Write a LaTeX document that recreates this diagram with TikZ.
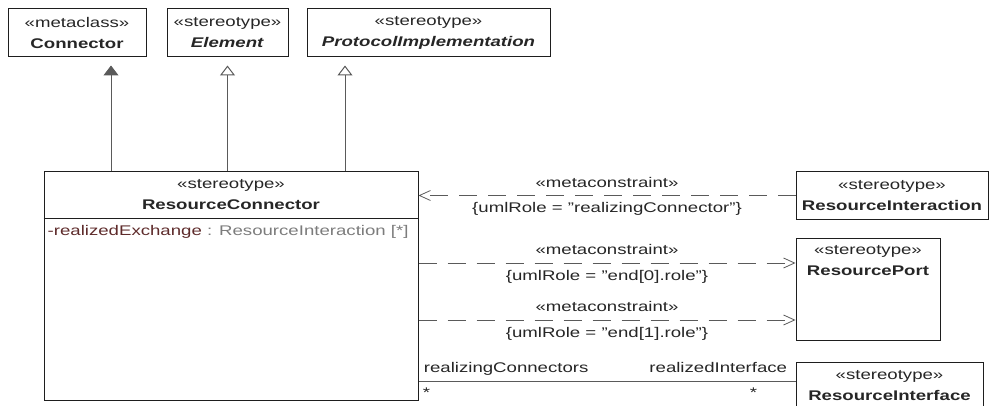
\documentclass[tikz,border=0pt]{standalone}
\usepackage{fontspec}
\setmainfont{Liberation Sans}[FakeStretch=1.33]
\usepackage{xcolor}
\usetikzlibrary{arrows.meta, positioning}
\definecolor{uml-border}{HTML}{1E1E1E}
\definecolor{uml-text}{HTML}{262626}
\definecolor{uml-line}{HTML}{5A5A5A}
\definecolor{attr-name}{HTML}{5E2B2B}
\definecolor{attr-type}{HTML}{7C7C7C}

\begin{document}
\begin{tikzpicture}[x=1pt, y=-1pt,
        every node/.style={font=\fontsize{14}{21}\selectfont, text=uml-text, inner sep=0pt},
        umlclass/.style={draw=uml-border, line width=1pt},
        stereo/.style={align=center},
        lbl/.style={text height=10pt, text depth=3pt},
        generalize/.style={draw=uml-line, line width=1pt, shorten >=8pt,
            -{Triangle[open, length=10pt, width=15pt]}},
        extension/.style={draw=uml-line, line width=1pt, shorten >=8pt,
            -{Triangle[length=10pt, width=15pt]}},
        metadep/.style={draw=uml-line, line width=0.8pt, dash pattern=on 18pt off 11pt,
            -{Straight Barb[length=11pt, width=10pt]}},
        assoc/.style={draw=uml-line, line width=0.8pt}]
      \useasboundingbox (0,0) rectangle (990,406);
      % metaclass and stereotypes on top
      \node[umlclass, minimum width=138pt, minimum height=48pt] (conn) at (77,33) {};
      \node[stereo] (conn-title) at (conn.center) {«metaclass»\\\textbf{Connector}};
      \node[umlclass, minimum width=121pt, minimum height=48pt] (elem) at (227.5,33) {};
      \node[stereo] (elem-title) at (elem.center) {«stereotype»\\\textbf{\textit{Element}}};
      \node[umlclass, minimum width=243pt, minimum height=48pt] (proto) at (428.5,33) {};
      \node[stereo] (proto-title) at (proto.center) {«stereotype»\\\textbf{\textit{ProtocolImplementation}}};
      % the stereotype itself
      \node[umlclass, minimum width=374pt, minimum height=228pt] (rc) at (231,286) {};
      \node[stereo] (rc-title) at ([yshift=-23.5pt]rc.north) {«stereotype»\\\textbf{ResourceConnector}};
      \draw[umlclass] ([yshift=-47pt]rc.north west) -- ([yshift=-47pt]rc.north east);
      \node[anchor=base west] (rc-attr) at ([xshift=4pt, yshift=-64pt]rc.north west)
            {\textcolor{attr-name}{-realizedExchange}~\textcolor{attr-type}{: ResourceInteraction [*]}};
      % related stereotypes on the right
      \node[umlclass, minimum width=192pt, minimum height=47pt] (ri) at (892,195.5) {};
      \node[stereo] (ri-title) at (ri.center) {«stereotype»\\\textbf{ResourceInteraction}};
      \node[umlclass, minimum width=144pt, minimum height=102pt] (rp) at (868,289) {};
      \node[stereo] (rp-title) at ([yshift=-23pt]rp.north) {«stereotype»\\\textbf{ResourcePort}};
      \node[umlclass, minimum width=187pt, minimum height=47pt] (rif) at (889.5,385.5) {};
      \node[stereo] (rif-title) at (rif.center) {«stereotype»\\\textbf{ResourceInterface}};
      % generalizations
      \draw[extension] (rc.north -| 111,0) -- (conn.south -| 111,0);
      \draw[generalize] (rc.north -| elem.south) -- (elem.south);
      \draw[generalize] (rc.north -| 345,0) -- (proto.south -| 345,0);
      % metaconstraints
      \draw[metadep] (ri.west) -- (ri.west -| rc.east)
            node[midway, lbl, above=5pt] {«metaconstraint»}
            node[midway, lbl, below=7pt] {\{umlRole = "realizingConnector"\}};
      \draw[metadep] (rc.east |- 0,263) -- (rp.west |- 0,263)
            node[midway, lbl, above=5pt] {«metaconstraint»}
            node[midway, lbl, below=7pt] {\{umlRole = "end[0].role"\}};
      \draw[metadep] (rc.east |- 0,320) -- (rp.west |- 0,320)
            node[midway, lbl, above=5pt] {«metaconstraint»}
            node[midway, lbl, below=7pt] {\{umlRole = "end[1].role"\}};
      % association
      \draw[assoc] (rc.east |- 0,381) -- (rif.west |- 0,381)
            node[pos=0, anchor=base west, xshift=5pt, yshift=9pt] {realizingConnectors}
            node[pos=0, anchor=base west, xshift=4pt, yshift=-16pt] {*}
            node[pos=1, anchor=base east, xshift=-8pt, yshift=9pt] {realizedInterface}
            node[pos=1, anchor=base east, xshift=-38pt, yshift=-16pt] {*};
    \end{tikzpicture}
\end{document}
